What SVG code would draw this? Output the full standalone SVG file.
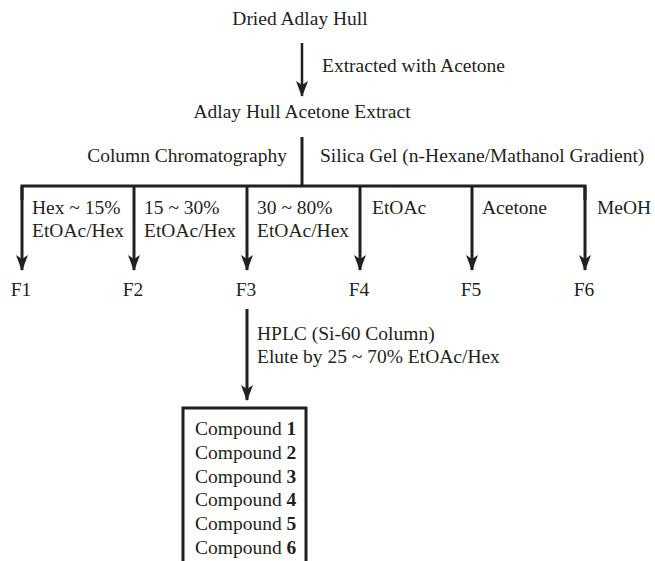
<svg xmlns="http://www.w3.org/2000/svg" width="655" height="561" viewBox="0 0 655 561">
<defs>
<marker id="ah" markerUnits="userSpaceOnUse" markerWidth="16" markerHeight="14" viewBox="0 0 16 14" refX="15" refY="7" orient="auto">
<path d="M0,1 L16,7 L0,13 L4,7 Z" fill="#231f20"/>
</marker>
</defs>
<style>
text{font-family:"Liberation Serif","Times New Roman",serif;font-size:19.5px;fill:#231f20}
.c{text-anchor:middle}
.e{text-anchor:end}
.b{font-weight:bold}
.ln{stroke:#231f20;stroke-width:3;fill:none}
.ar{stroke:#231f20;stroke-width:3;fill:none;marker-end:url(#ah)}
</style>
<rect width="655" height="561" fill="#fff"/>
<g id="connectors">
<line class="ar" x1="302" y1="43" x2="302" y2="96" style="stroke-width:2.5"/>
<line class="ln" x1="302" y1="137" x2="302" y2="186"/>
<polyline class="ln" points="22,200 22,186 585,186 585,200"/>
<line class="ar" x1="22" y1="186" x2="22" y2="270"/>
<line class="ar" x1="134" y1="186" x2="134" y2="270"/>
<line class="ar" x1="247" y1="186" x2="247" y2="270"/>
<line class="ar" x1="360" y1="186" x2="360" y2="270"/>
<line class="ar" x1="472" y1="186" x2="472" y2="270"/>
<line class="ar" x1="585" y1="186" x2="585" y2="270"/>
<line class="ar" x1="247" y1="309" x2="247" y2="400"/>
</g>
<g id="labels">
<text x="322" y="72">Extracted with Acetone</text>
<text class="e" x="287" y="162">Column Chromatography</text>
<text x="320" y="162">Silica Gel (n-Hexane/Mathanol Gradient)</text>
<text x="32" y="214">Hex ~ 15%</text>
<text x="32" y="237">EtOAc/Hex</text>
<text x="144" y="214">15 ~ 30%</text>
<text x="144" y="237">EtOAc/Hex</text>
<text x="257" y="214">30 ~ 80%</text>
<text x="257" y="237">EtOAc/Hex</text>
<text x="372" y="214">EtOAc</text>
<text x="482" y="214">Acetone</text>
<text x="597" y="214">MeOH</text>
<text x="257" y="340">HPLC (Si-60 Column)</text>
<text x="257" y="363">Elute by 25 ~ 70% EtOAc/Hex</text>
</g>
<g id="n-dried"><text class="c" x="300" y="25">Dried Adlay Hull</text></g>
<g id="n-extract"><text class="c" x="302" y="118">Adlay Hull Acetone Extract</text></g>
<g id="n-f1"><text class="c" x="21" y="296">F1</text></g>
<g id="n-f2"><text class="c" x="133" y="296">F2</text></g>
<g id="n-f3"><text class="c" x="246" y="296">F3</text></g>
<g id="n-f4"><text class="c" x="359" y="296">F4</text></g>
<g id="n-f5"><text class="c" x="471" y="296">F5</text></g>
<g id="n-f6"><text class="c" x="584" y="296">F6</text></g>
<g id="n-compounds">
<rect class="ln" x="183" y="408" width="123" height="170"/>
<text x="195" y="435">Compound <tspan class="b">1</tspan></text>
<text x="195" y="459">Compound <tspan class="b">2</tspan></text>
<text x="195" y="483">Compound <tspan class="b">3</tspan></text>
<text x="195" y="506">Compound <tspan class="b">4</tspan></text>
<text x="195" y="530">Compound <tspan class="b">5</tspan></text>
<text x="195" y="554">Compound <tspan class="b">6</tspan></text>
</g>
</svg>
